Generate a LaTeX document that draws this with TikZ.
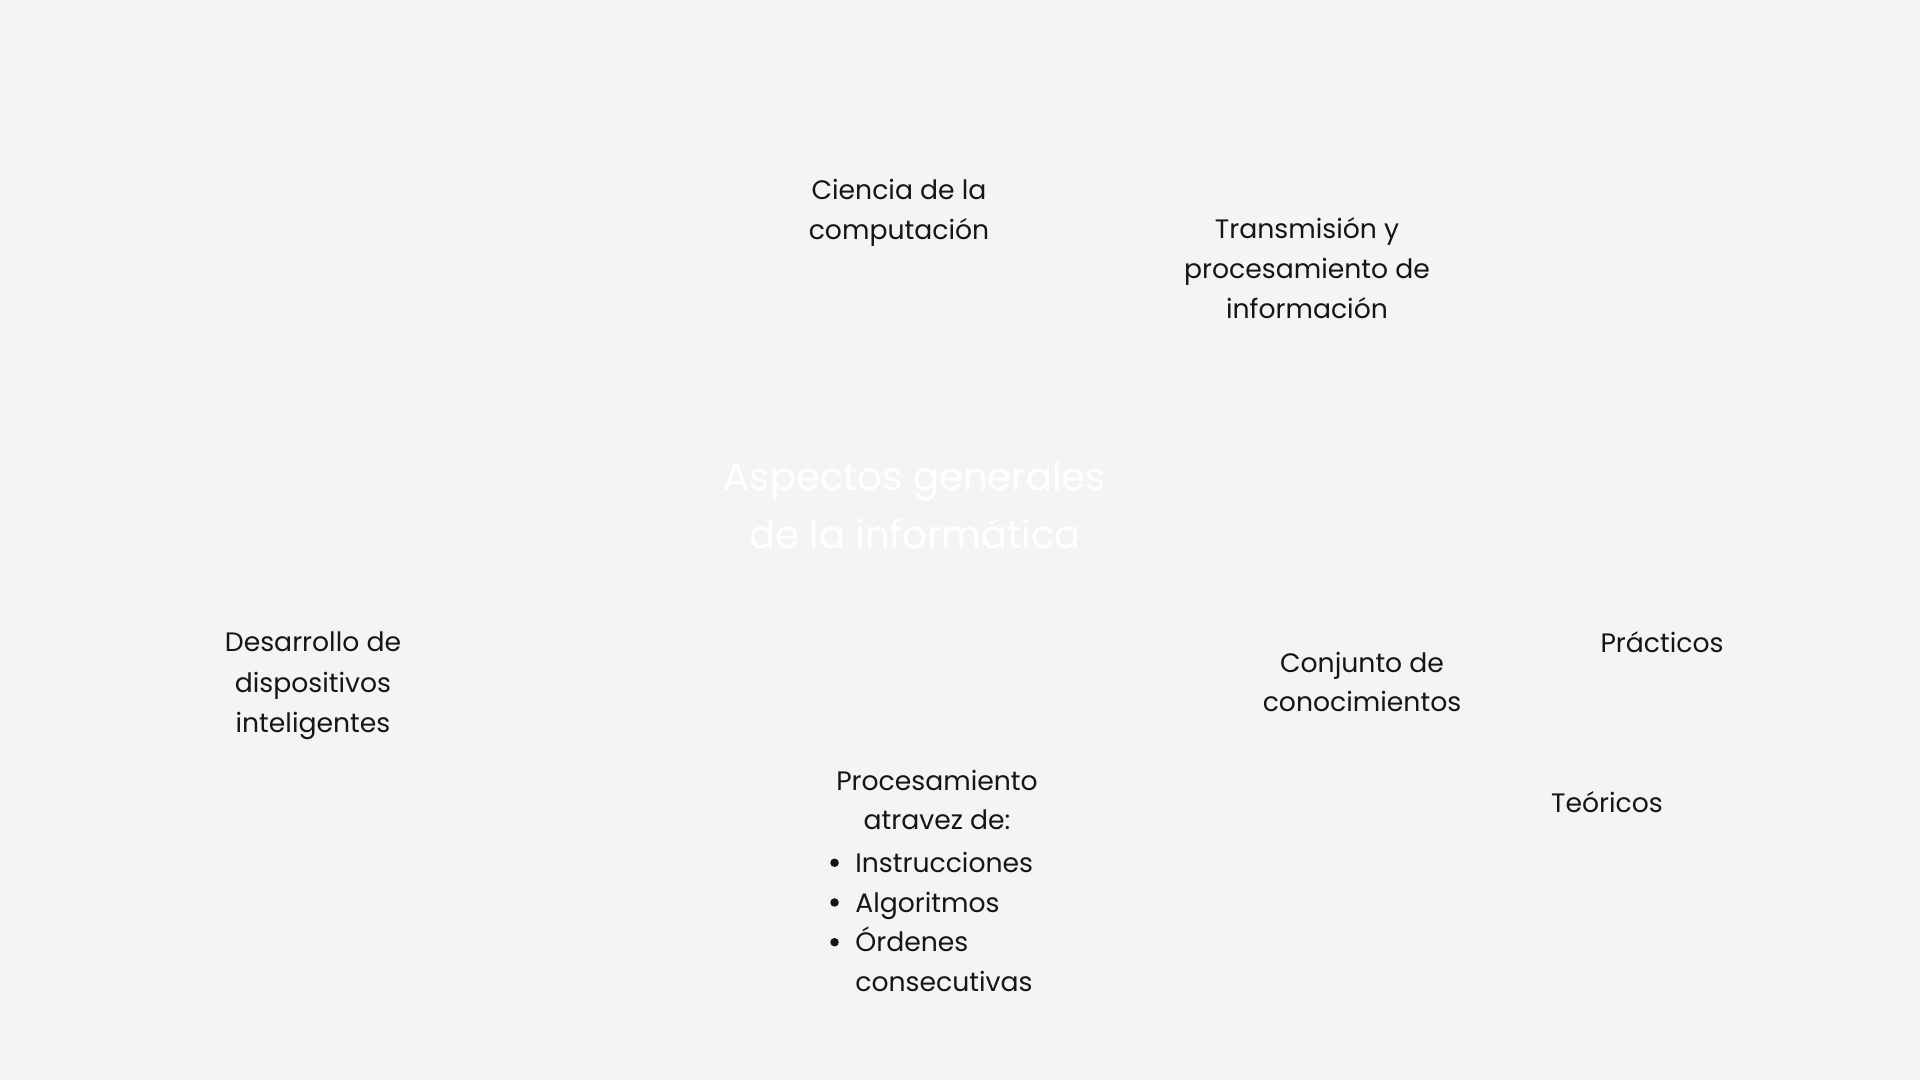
\documentclass[tikz,border=0pt]{standalone}
\usepackage{fontspec}
\setmainfont{Poppins}
\definecolor{bg}{HTML}{F4F4F4}
\definecolor{ink}{HTML}{151515}
\newcommand{\mybul}{\raisebox{0.2em}{\tikz\fill[ink] (0,0) circle (3.2pt);}}
\begin{document}
\begin{tikzpicture}[x=0.75pt,y=-0.75pt,
  lbl/.style={inner sep=0pt,align=center,text=ink,font=\fontsize{20}{29.8}\selectfont},
  title/.style={inner sep=0pt,align=center,text=white,font=\fontsize{29}{43.5}\selectfont}]
\fill[bg] (0,0) rectangle (1920,1080);
\useasboundingbox (0,0) rectangle (1920,1080);
\node[title] (center) at (915,505) {Aspectos generales\\de la informática};
\node[lbl] (ciencia) at (899,213) {Ciencia de la\\computación};
\node[lbl] (trans) at (1307,268) {Transmisión y\\procesamiento de\\información};
\node[lbl,font=\fontsize{20}{30.5}\selectfont] (desa) at (313,686) {Desarrollo de\\dispositivos\\inteligentes};
\node[lbl] (conj) at (1362,682) {Conjunto de\\conocimientos};
\node[lbl] (prac) at (1662,642) {Prácticos};
\node[lbl] (teor) at (1607,802) {Teóricos};
\node[lbl] (proc) at (937,800) {Procesamiento\\atravez de:};
\node[lbl,align=left,anchor=west] (list) at (830,924) {%
\begin{tabular}{@{}l@{\hspace{12.4pt}}l@{}}
\mybul & Instrucciones\\
\mybul & Algoritmos\\
\mybul & Órdenes\\
 & consecutivas
\end{tabular}};
\end{tikzpicture}
\end{document}
